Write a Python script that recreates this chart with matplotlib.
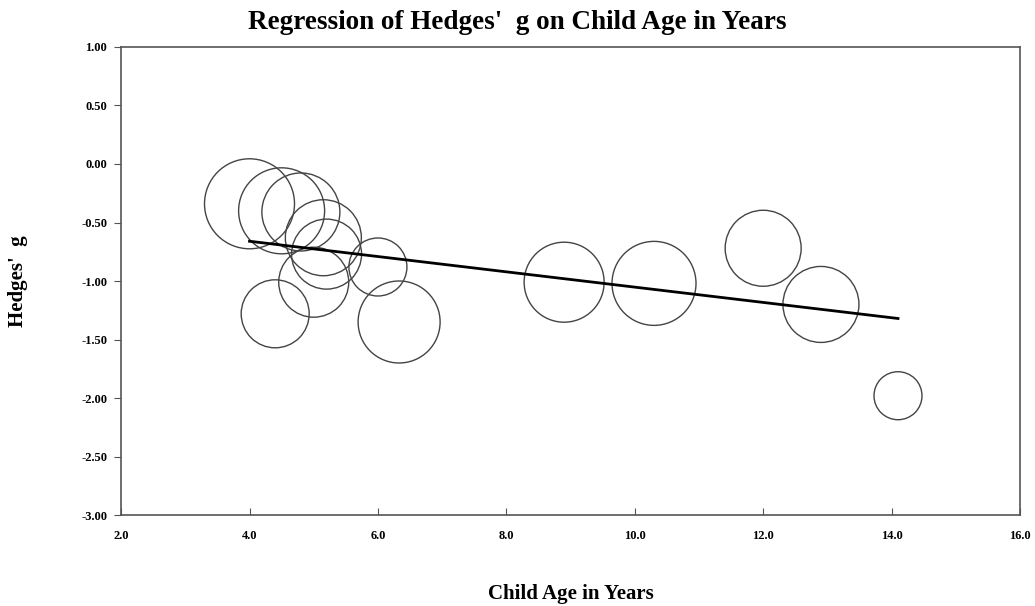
import matplotlib.pyplot as plt

# study-level effect sizes
age = [4.0, 4.5, 4.8, 5.15, 5.2, 5.0, 6.0, 4.4, 6.33, 8.9, 10.3, 12.0, 12.9, 14.1]
hedges_g = [-0.34, -0.40, -0.41, -0.63, -0.77, -1.01, -0.88, -1.28, -1.35,
            -1.01, -1.02, -0.72, -1.20, -1.98]
# relative study weight (bubble radius)
weight = [45, 43, 39, 38, 35, 35, 29, 34, 41, 40, 42, 38, 38, 24]

# fitted regression line end points
reg_x = [4.0, 14.1]
reg_y = [-0.66, -1.32]

x_ticks = [2.0, 4.0, 6.0, 8.0, 10.0, 12.0, 14.0, 16.0]
y_ticks = [1.00, 0.50, 0.00, -0.50, -1.00, -1.50, -2.00, -2.50, -3.00]

plt.rcParams["font.family"] = ["Liberation Serif", "DejaVu Serif"]
plt.rcParams["font.weight"] = "bold"

fig = plt.figure(figsize=(10.35, 6.06), dpi=100)
ax = fig.add_axes([0.117, 0.150, 0.8685, 0.7725])

# radius in px -> marker area in points^2
sizes = [(2 * w * 72 / 100) ** 2 for w in weight]

ax.scatter(
    age,
    hedges_g,
    s=sizes,
    facecolors="none",
    edgecolors="#444444",
    linewidths=1.0,
    zorder=2
)

ax.plot(reg_x, reg_y, color="black", linewidth=2.0, zorder=3)

ax.set_xlim(2.0, 16.0)
ax.set_ylim(-3.0, 1.0)
ax.set_xticks(x_ticks)
ax.set_xticklabels([f"{v:.1f}" for v in x_ticks])
ax.set_yticks(y_ticks)
ax.set_yticklabels([f"{v:.2f}" for v in y_ticks])

ax.tick_params(axis="x", direction="in", length=5, pad=11, labelsize=9,
               color="#555555")
ax.tick_params(axis="y", direction="out", length=5, pad=5, labelsize=9,
               color="#555555")

for spine in ax.spines.values():
    spine.set_color("#555555")
    spine.set_linewidth(1.2)

fig.text(0.5, 0.963, "Regression of Hedges'  g on Child Age in Years",
         ha="center", va="center", fontsize=19.5, fontweight="bold")
ax.set_xlabel("Child Age in Years", fontsize=15, fontweight="bold")
ax.set_ylabel("Hedges'  g", fontsize=15, fontweight="bold")
ax.xaxis.set_label_coords(0.5, -0.169)
ax.yaxis.set_label_coords(-0.1146, 0.5)
ax.xaxis.label.set_va("center")
ax.yaxis.label.set_va("center")

fig.savefig("out.png", dpi=100)
